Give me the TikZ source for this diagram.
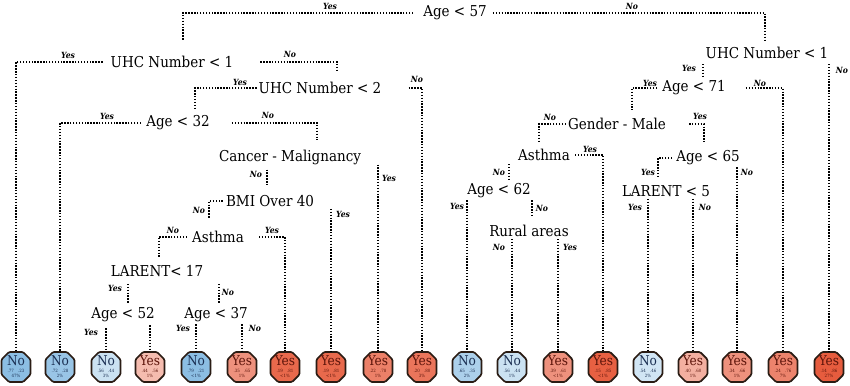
\documentclass[tikz,border=0pt]{standalone}
\usepackage{fontspec}
\setmainfont{DejaVu Serif Condensed}
\usetikzlibrary{shapes.misc}

\definecolor{Nofill}{RGB}{70,150,210}
\definecolor{Yesfill}{RGB}{228,78,45}
\definecolor{Noink}{HTML}{1B2F52}
\definecolor{Yesink}{HTML}{5C140A}
\definecolor{rim}{HTML}{2A1C14}

\begin{document}
\begin{tikzpicture}[x=1pt,y=-1pt,
  split/.style={inner sep=0pt,font=\fontsize{15}{15}\selectfont},
  ans/.style={inner sep=0pt,font=\fontsize{8.5}{8.5}\selectfont\bfseries\itshape},
  tie/.style={line width=1.8pt,dash pattern=on 1.4pt off 1.5pt},
  leafbox/.style={chamfered rectangle,chamfered rectangle xsep=4pt,
    draw=rim,line width=1.7pt,rounded corners=1.2pt,
    minimum width=29pt,minimum height=30pt,inner sep=0pt,align=center,
    font=\fontsize{4.4}{5.2}\selectfont}]

\useasboundingbox (0,0) rectangle (850,385);

% splits
\node[split] (n57) at (455,13) {Age < 57};
\node[split] (u1L) at (172,62) {UHC Number < 1};
\node[split] (u2) at (320,88) {UHC Number < 2};
\node[split] (a32) at (178,123) {Age < 32};
\node[split] (cm) at (290,157) {Cancer - Malignancy};
\node[split] (bmi) at (270,201) {BMI Over 40};
\node[split] (asL) at (218,237) {Asthma};
\node[split] (lar17) at (157,271) {LARENT< 17};
\node[split] (a52) at (123,315) {Age < 52};
\node[split] (a37) at (216,315) {Age < 37};
\node[split] (u1R) at (767,53) {UHC Number < 1};
\node[split] (a71) at (694,88) {Age < 71};
\node[split] (gm) at (617,124) {Gender - Male};
\node[split] (asR) at (544,155) {Asthma};
\node[split] (a65) at (708,158) {Age < 65};
\node[split] (a62) at (499,191) {Age < 62};
\node[split] (lar5) at (666,191) {LARENT < 5};
\node[split] (rur) at (529,231) {Rural areas};

% leaves: n/x/class/p/q/share/shade
\foreach \i/\x/\cls/\p/\q/\s/\k in {
  1/16/No/.77/.23/47/62, 2/60/No/.72/.28/2/55, 3/106/No/.56/.44/3/28,
  4/150/Yes/.44/.56/1/38, 5/196/No/.79/.21/<1/62, 6/242/Yes/.35/.65/1/62,
  7/285/Yes/.19/.81/<1/85, 8/331/Yes/.19/.81/<1/85, 9/378/Yes/.22/.78/1/72,
  10/422/Yes/.20/.80/3/78, 11/467/No/.65/.35/2/45, 12/512/No/.56/.44/1/28,
  13/558/Yes/.39/.61/<1/62, 14/603/Yes/.15/.85/<1/90, 15/648/No/.54/.46/2/25,
  16/693/Yes/.40/.60/1/45, 17/737/Yes/.34/.66/1/62, 18/783/Yes/.24/.76/7/70,
  19/829/Yes/.14/.86/27/92}
  \node[leafbox,fill=\cls fill!\k!white,text=\cls ink] (l\i) at (\x,367)
    {{\fontsize{13.5}{13.5}\selectfont\cls}\\[1.5pt]\p\quad\q\\\s\%};

% branches, left half
\coordinate (e1) at (183,40);
\draw[tie] ([xshift=-10pt]n57.west) -| (e1);
\coordinate (e2) at (765,40);
\draw[tie] ([xshift=6pt]n57.east) -| (e2);
\draw[tie] ([xshift=-8pt]u1L.west) -| (l1.north);
\coordinate (e4) at (337,72);
\draw[tie] ([xshift=27pt]u1L.east) -| (e4);
\coordinate (e5) at (195,108);
\draw[tie] ([xshift=-2pt]u2.west) -| (e5);
\draw[tie] ([xshift=27pt]u2.east) -| (l10.north);
\draw[tie] ([xshift=-5pt]a32.west) -| (l2.north);
\coordinate (e8) at (317,140);
\draw[tie] ([xshift=22pt]a32.east) -| (e8);
\draw[tie] (l9 |- cm.south) -- (l9.north);
\coordinate (e10) at (267,185);
\draw[tie,shorten <=5pt] (e10 |- cm.south) -- (e10);
\coordinate (e11) at (209,219);
\draw[tie] ([xshift=-3pt]bmi.west) -| (e11);
\draw[tie,shorten <=2pt] (l8 |- bmi.south) -- (l8.north);
\coordinate (e13) at (159,257);
\draw[tie] ([xshift=-5pt]asL.west) -| (e13);
\draw[tie] ([xshift=15pt]asL.east) -| (l7.north);
\coordinate (e15) at (128,303);
\draw[tie,shorten <=7pt] (e15 |- lar17.south) -- (e15);
\coordinate (e16) at (219,303);
\draw[tie,shorten <=7pt] (e16 |- lar17.south) -- (e16);
\draw[tie,shorten <=6pt] (l3 |- a52.south) -- (l3.north);
\draw[tie,shorten <=3pt] (l4 |- a52.south) -- (l4.north);
\draw[tie,shorten <=2pt] (l5 |- a37.south) -- (l5.north);
\draw[tie,shorten <=2pt] (l6 |- a37.south) -- (l6.north);

% branches, right half
\coordinate (e21) at (703,77);
\draw[tie,shorten <=5pt] (e21 |- u1R.south) -- (e21);
\draw[tie,shorten <=5pt] (l19 |- u1R.south) -- (l19.north);
\coordinate (e23) at (632,110);
\draw[tie] ([xshift=-5pt]a71.west) -| (e23);
\draw[tie] ([xshift=20pt]a71.east) -| (l18.north);
\coordinate (e25) at (539,142);
\draw[tie] ([xshift=-2pt]gm.west) -| (e25);
\coordinate (e26) at (704,142);
\draw[tie] ([xshift=23pt]gm.east) -| (e26);
\coordinate (e27) at (509,179);
\draw[tie,shorten <=3pt] (e27 |- asR.south) -- (e27);
\draw[tie] ([xshift=5pt]asR.east) -| (l14.north);
\coordinate (e29) at (658,177);
\draw[tie] ([xshift=-4pt]a65.west) -| (e29);
\draw[tie,shorten <=2pt] (l17 |- a65.south) -- (l17.north);
\draw[tie,shorten <=2pt] (l11 |- a62.south) -- (l11.north);
\coordinate (e32) at (532,217);
\draw[tie,shorten <=2pt] (e32 |- a62.south) -- (e32);
\draw[tie,shorten <=2pt] (l15 |- lar5.south) -- (l15.north);
\draw[tie,shorten <=2pt] (l16 |- lar5.south) -- (l16.north);
\draw[tie,shorten <=2pt] (l12 |- rur.south) -- (l12.north);
\draw[tie,shorten <=2pt] (l13 |- rur.south) -- (l13.north);

% answers on the branches
\foreach \i/\x/\y/\w in {
  1/330/6/Yes, 2/632/6/No, 3/68/55/Yes, 4/290/54/No, 5/240/82/Yes,
  6/417/79/No, 7/107/116/Yes, 8/268/115/No, 9/389/178/Yes, 10/256/174/No,
  11/199/210/No, 12/343/214/Yes, 13/173/230/No, 14/272/230/Yes,
  15/115/288/Yes, 16/228/292/No, 17/91/332/Yes, 18/183/328/Yes,
  19/255/328/No, 20/689/68/Yes, 21/842/70/No, 22/650/83/Yes, 23/760/83/No,
  24/550/117/No, 25/700/116/Yes, 26/499/172/No, 27/590/149/Yes,
  28/648/172/Yes, 29/747/172/No, 30/457/206/Yes, 31/542/208/No,
  32/635/207/Yes, 33/705/207/No, 34/499/247/No, 35/570/247/Yes}
  \node[ans] (t\i) at (\x,\y) {\w};

\end{tikzpicture}
\end{document}
